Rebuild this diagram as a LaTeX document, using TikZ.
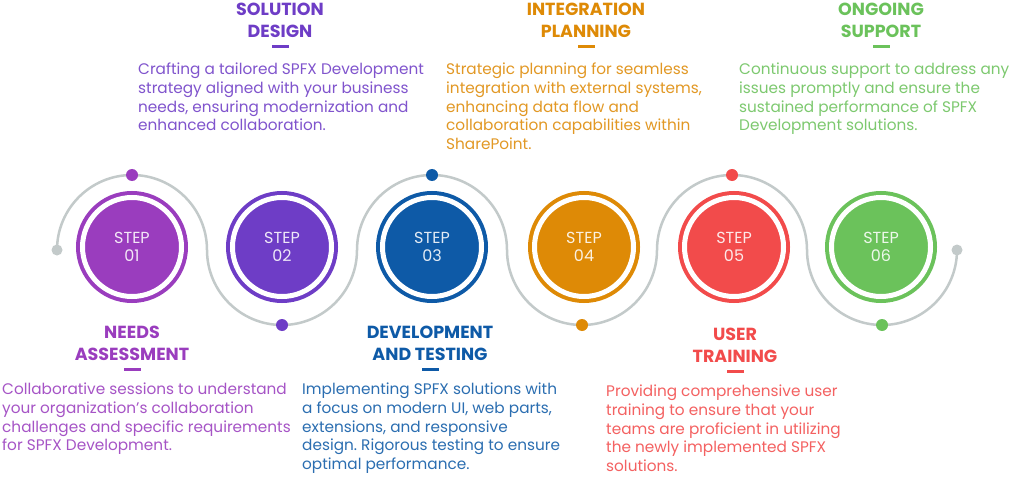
\documentclass[tikz,border=0pt]{standalone}
\usepackage{fontspec}
\setmainfont{Poppins}
\usetikzlibrary{positioning}
\frenchspacing
\definecolor{needs}{HTML}{9A3DBE}
\definecolor{design}{HTML}{6E3DC6}
\definecolor{devel}{HTML}{0E5AA7}
\definecolor{integ}{HTML}{DE8A06}
\definecolor{train}{HTML}{F24B4B}
\definecolor{support}{HTML}{6BC25B}
\definecolor{wavegray}{HTML}{C3CACA}

\begin{document}
\begin{tikzpicture}[x=1pt,y=-1pt,
  disc/.style={circle,fill=#1,draw=#1,double=white,double distance=5pt,line width=4pt,
    minimum size=99pt,inner sep=0pt,align=center,text=white!88!#1,
    font=\fontsize{16}{18.5}\selectfont},
  head/.style={anchor=north,align=center,inner sep=0pt,text=#1,
    font=\fontsize{17.5}{21.5}\selectfont\bfseries},
  dashbar/.style={fill=#1,inner sep=0pt,minimum width=17pt,minimum height=3pt},
  body/.style={anchor=north west,align=left,inner sep=0pt,text=#1!88!white,
    font=\fontsize{15.3}{18.6}\selectfont},
  wave/.style={draw=wavegray,line width=2.5pt}]
\useasboundingbox (0,0) rectangle (1024,481);
\fill[white] (0,0) rectangle (1024,481);

% the wave behind the steps
\path[wave] (57,250) arc[start angle=180,end angle=0,radius=75pt]
  arc[start angle=180,end angle=360,radius=75pt]
  arc[start angle=180,end angle=0,radius=75pt]
  arc[start angle=180,end angle=360,radius=75pt]
  arc[start angle=180,end angle=0,radius=75pt]
  arc[start angle=180,end angle=360,radius=75pt];
\fill[wavegray] (57,250) circle (5.5pt); \fill[wavegray] (957,250) circle (5.5pt);
\fill[needs] (132,175) circle (6pt); \fill[design] (282,325) circle (6pt);
\fill[devel] (432,175) circle (6pt); \fill[integ] (582,325) circle (6pt);
\fill[train] (732,175) circle (6pt); \fill[support] (882,325) circle (6pt);

\node[disc=needs] (needs) at (132,247) {STEP\\01};
\node[disc=design] (design) at (282,247) {STEP\\02};
\node[disc=devel] (devel) at (432,247) {STEP\\03};
\node[disc=integ] (integ) at (584,247) {STEP\\04};
\node[disc=train] (train) at (734,247) {STEP\\05};
\node[disc=support] (support) at (881,247) {STEP\\06};

\node[head=design] (design-h) at (280,3) {SOLUTION\\DESIGN};
\node[dashbar=design,below=7pt of design-h] (design-d) {};
\node[body=design] (design-b) at (138,63) {Crafting a tailored SPFX Development\\strategy aligned with your business\\needs, ensuring modernization and\\enhanced collaboration.};

\node[head=integ] (integ-h) at (586,3) {INTEGRATION\\PLANNING};
\node[dashbar=integ,below=7pt of integ-h] (integ-d) {};
\node[body=integ] (integ-b) at (446,63) {Strategic planning for seamless\\integration with external systems,\\enhancing data flow and\\collaboration capabilities within\\SharePoint.};

\node[head=support] (support-h) at (881,3) {ONGOING\\SUPPORT};
\node[dashbar=support,below=7pt of support-h] (support-d) {};
\node[body=support] (support-b) at (739,63) {Continuous support to address any\\issues promptly and ensure the\\sustained performance of SPFX\\Development solutions.};

\node[head=needs] (needs-h) at (132,326) {NEEDS\\ASSESSMENT};
\node[dashbar=needs,below=7pt of needs-h] (needs-d) {};
\node[body=needs] (needs-b) at (2,383) {Collaborative sessions to understand\\your organization’s collaboration\\challenges and specific requirements\\for SPFX Development.};

\node[head=devel] (devel-h) at (430,326) {DEVELOPMENT\\AND TESTING};
\node[dashbar=devel,below=7pt of devel-h] (devel-d) {};
\node[body=devel] (devel-b) at (302,383) {Implementing SPFX solutions with\\a focus on modern UI, web parts,\\extensions, and responsive\\design. Rigorous testing to ensure\\optimal performance.};

\node[head=train] (train-h) at (735,328) {USER\\TRAINING};
\node[dashbar=train,below=7pt of train-h] (train-d) {};
\node[body=train] (train-b) at (606,385) {Providing comprehensive user\\training to ensure that your\\teams are proficient in utilizing\\the newly implemented SPFX\\solutions.};
\end{tikzpicture}
\end{document}
